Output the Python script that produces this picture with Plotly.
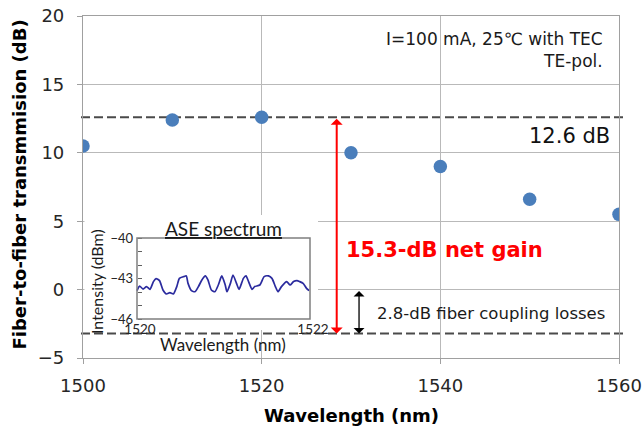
import plotly.graph_objects as go

# ---------------- data ----------------
wavelength_nm = [1500, 1510, 1520, 1530, 1540, 1550, 1560]
transmission_db = [10.5, 12.4, 12.6, 10.0, 9.0, 6.6, 5.5]

x_ticks = [1500, 1520, 1540, 1560]
y_ticks = [-5, 0, 5, 10, 15, 20]

peak_level_db = 12.6
loss_level_db = -3.2
coupling_top_db = 0.0
gain_arrow_x = 1528.4
loss_arrow_x = 1530.9

# inset ASE spectrum
ase_wl = [1520.00, 1520.03, 1520.07, 1520.11, 1520.15, 1520.19, 1520.22, 1520.26, 1520.30,
          1520.34, 1520.38, 1520.42, 1520.46, 1520.49, 1520.54, 1520.57, 1520.59, 1520.63,
          1520.67, 1520.71, 1520.75, 1520.79, 1520.82, 1520.86, 1520.90, 1520.94, 1520.98,
          1521.02, 1521.04, 1521.08, 1521.11, 1521.15, 1521.18, 1521.23, 1521.26, 1521.29,
          1521.33, 1521.36, 1521.42, 1521.47, 1521.52, 1521.56, 1521.60, 1521.63, 1521.67,
          1521.73, 1521.77, 1521.81, 1521.85, 1521.88, 1521.92, 1521.96, 1521.99]
ase_dbm = [-43.90, -43.56, -43.78, -43.60, -43.80, -43.23, -43.01, -43.16, -43.85,
           -44.15, -44.05, -44.15, -43.60, -42.99, -42.86, -42.81, -43.36, -43.90,
           -43.98, -43.60, -43.11, -42.81, -43.11, -43.85, -43.98, -43.48, -42.81,
           -43.48, -43.98, -43.36, -42.74, -43.36, -43.80, -42.99, -42.81, -43.23,
           -43.80, -43.60, -43.48, -42.86, -42.81, -42.99, -43.60, -43.98, -43.60,
           -43.23, -43.48, -43.23, -43.16, -43.23, -43.36, -43.73, -43.90]
inset_x_ticks = [1520, 1522]
inset_y_ticks = [-40, -43, -46]
inset_y_minor = [-41, -42, -44, -45]

# ---------------- layout helpers (pixels -> paper) ----------------
W, H = 642, 432
L, R, T, B = 83, 23, 16, 74
PW, PH = W - L - R, H - T - B


def px(x):
    return (x - L) / PW


def py(y):
    return (H - B - y) / PH


# inset box / white area in pixels
box_l, box_r, box_t, box_b = 137, 310, 238, 319
area_l, area_r, area_t, area_b = 84.5, 318, 215, 330
ix0, ix1 = inset_x_ticks[0], inset_x_ticks[-1]
iy0, iy1 = inset_y_ticks[-1], inset_y_ticks[0]
sx = (box_r - box_l) / (ix1 - ix0)
sy = (box_b - box_t) / (iy1 - iy0)
x2_range = [ix0 - (box_l - area_l) / sx, ix1 + (area_r - box_r) / sx]
y2_range = [iy0 - (area_b - box_b) / sy, iy1 + (box_t - area_t) / sy]

MAIN_FONT = "DejaVu Sans"
INSET_FONT = "Lato"
GRID = "#b9b9b9"
AX = "#a0a0a0"

fig = go.Figure()

fig.add_trace(go.Scatter(
    x=wavelength_nm, y=transmission_db, mode="markers",
    marker=dict(size=13.5, color="#4a7ebb", line=dict(width=0)),
    xaxis="x", yaxis="y", showlegend=False))

fig.add_trace(go.Scatter(
    x=ase_wl, y=ase_dbm, mode="lines",
    line=dict(color="#2b2b9e", width=1.7, shape="spline", smoothing=0.6),
    xaxis="x2", yaxis="y2", showlegend=False))

fig.update_layout(
    width=W, height=H, autosize=False,
    margin=dict(l=L, r=R, t=T, b=B, pad=0, autoexpand=False),
    paper_bgcolor="white", plot_bgcolor="white",
    font=dict(family=MAIN_FONT, size=18, color="#262626"),
    xaxis=dict(range=[x_ticks[0], x_ticks[-1]], tickvals=x_ticks,
               showgrid=True, gridcolor=GRID, gridwidth=1,
               showline=True, linecolor=AX, linewidth=1.2, mirror=True,
               ticks="outside", ticklen=5, tickcolor=AX, automargin=False,
               ticklabelstandoff=6, zeroline=False,
               tickfont=dict(size=18, color="#262626")),
    yaxis=dict(range=[y_ticks[0], y_ticks[-1]], tickvals=y_ticks,
               showgrid=True, gridcolor=GRID, gridwidth=1,
               showline=True, linecolor=AX, linewidth=1.2, mirror=True,
               ticks="outside", ticklen=5, tickcolor=AX, automargin=False,
               ticklabelstandoff=9, zeroline=False,
               tickfont=dict(size=18, color="#262626")),
    xaxis2=dict(domain=[px(area_l), px(area_r)], range=x2_range,
                anchor="free", position=py(box_b), automargin=False,
                tickvals=inset_x_ticks, ticks="", showgrid=False,
                zeroline=False, showline=False, ticklabelstandoff=0,
                ticklabelshift=3,
                tickfont=dict(family=INSET_FONT, size=13.5, color="#262626")),
    yaxis2=dict(domain=[py(area_b), py(area_t)], range=y2_range,
                anchor="free", position=px(box_l), automargin=False,
                tickvals=inset_y_ticks, ticks="inside", ticklen=4,
                tickcolor="#606060", tickwidth=1,
                minor=dict(tickvals=inset_y_minor, ticks="inside", ticklen=4,
                           tickcolor="#606060", tickwidth=1, showgrid=False),
                showgrid=False, zeroline=False, showline=False,
                ticklabelstandoff=4,
                tickfont=dict(family=INSET_FONT, size=13, color="#262626")),
)

# dashed reference levels
for lvl in (peak_level_db, loss_level_db):
    fig.add_shape(type="line", xref="paper", yref="y",
                  x0=px(81), x1=px(627), y0=lvl, y1=lvl,
                  line=dict(color="#4a4a4a", width=2, dash="9px,4px"),
                  layer="below")

# inset box
fig.add_shape(type="rect", xref="x2", yref="y2",
              x0=ix0, x1=ix1, y0=iy0, y1=iy1,
              line=dict(color="#7f7f7f", width=1.5), fillcolor="rgba(0,0,0,0)")

# arrows
fig.add_annotation(x=gain_arrow_x, y=loss_level_db, ax=gain_arrow_x, ay=peak_level_db,
                   xref="x", yref="y", axref="x", ayref="y", text="",
                   showarrow=True, arrowside="end+start", arrowhead=1, startarrowhead=1,
                   arrowwidth=2, arrowsize=1, startarrowsize=1,
                   arrowcolor="#ff0000", standoff=0, startstandoff=0)
fig.add_annotation(x=loss_arrow_x, y=loss_level_db, ax=loss_arrow_x, ay=coupling_top_db,
                   xref="x", yref="y", axref="x", ayref="y", text="",
                   showarrow=True, arrowside="end+start", arrowhead=1, startarrowhead=1,
                   arrowwidth=1.3, arrowsize=1.4, startarrowsize=1.4,
                   arrowcolor="#000000", standoff=0, startstandoff=0)

# texts
def note(text, x, y, size, color="#1a1a1a", xanchor="center", family=MAIN_FONT,
         angle=0, align="center"):
    fig.add_annotation(text=text, x=x, y=y, xref="paper", yref="paper",
                       showarrow=False, xanchor=xanchor, yanchor="middle",
                       textangle=angle, align=align,
                       font=dict(family=family, size=size, color=color))

note("<b>Fiber-to-fiber transmmision (dB)</b>", px(19), py(184.5), 18, color="#000000", angle=-90)
note("<b>Wavelength (nm)</b>", 0.5, py(415), 18, color="#000000")
note("I=100 mA, 25℃ with TEC<br>TE-pol.", px(605), py(50.5), 17, xanchor="right", align="right")
note("12.6 dB", px(612), py(136), 21, color="#111111", xanchor="right")
note("<b>15.3-dB net gain</b>", px(444), py(250), 21, color="#ff0000")
note("2.8-dB fiber coupling losses", px(491), py(313), 16.5)
note("<u>ASE spectrum</u>", px(223), py(228), 19, family=INSET_FONT)
note("Intensity (dBm)", px(96), py(282), 16, family=INSET_FONT, angle=-90)
note("Wavelength (nm)", px(223), py(344), 17, family=INSET_FONT)

fig.write_html("out.html")
